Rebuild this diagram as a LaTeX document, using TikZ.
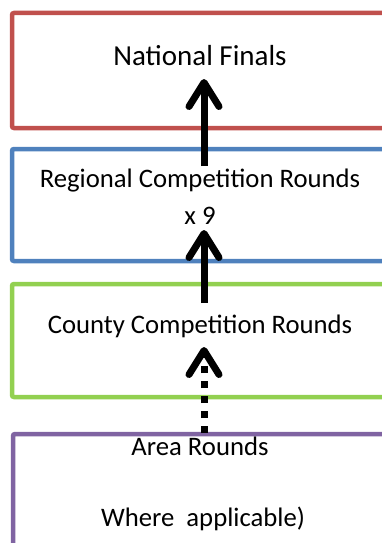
\documentclass[tikz,border=0pt]{standalone}
\usepackage{fontspec}
\setmainfont{Carlito}
\usetikzlibrary{arrows.meta}
\definecolor{cred}{HTML}{C0504D}
\definecolor{cblue}{HTML}{4F81BD}
\definecolor{cgreen}{HTML}{92D050}
\definecolor{cpurple}{HTML}{8064A2}
\begin{document}
\begin{tikzpicture}[x=1pt,y=-1pt,
  box/.style={draw, line width=4.5pt, rounded corners=2pt, minimum width=378pt, inner sep=0pt, outer sep=0pt},
  lbl/.style={font=\fontsize{26.7}{32}\selectfont, inner sep=0pt, anchor=base},
  bigl/.style={lbl, font=\fontsize{29}{35}\selectfont},
  uparrow/.style={line width=7pt, -{Straight Barb[length=24pt,width=30pt,round]}}]
\useasboundingbox (0,0) rectangle (382,543);
\clip (0,0) rectangle (382,543);
\node[box, draw=cred, minimum height=115pt] (nat) at (201,70.5) {};
\node[box, draw=cblue, minimum height=112pt] (reg) at (201,205) {};
\node[box, draw=cgreen, minimum height=113pt] (cty) at (201,340.5) {};
\node[box, draw=cpurple, minimum height=113pt] (area) at (202,490.5) {};
\node[bigl] (t1) at (200,65) {National Finals};
\node[lbl] (t2) at (200,187) {Regional Competition Rounds};
\node[lbl] (t3) at (200,224) {x 9};
\node[lbl] (t4) at (200,333) {County Competition Rounds};
\node[lbl] (t5) at (200,455) {Area Rounds};
\node[lbl] (t6) at (203,526) {Where\ \ applicable)};
\coordinate (a1s) at (204,166);
\coordinate (a1e) at (204,79);
\coordinate (a2s) at (204,303);
\coordinate (a2e) at (204,230);
\coordinate (a3s) at (204,433);
\coordinate (a3e) at (204,347);
\draw[uparrow] (a1s) -- (a1e);
\draw[uparrow] (a2s) -- (a2e);
\draw[uparrow, dash pattern=on 7pt off 8pt] (a3s) -- (a3e);
\end{tikzpicture}
\end{document}
